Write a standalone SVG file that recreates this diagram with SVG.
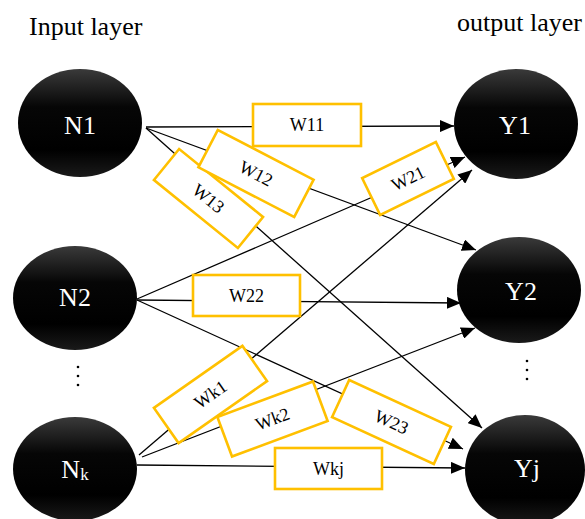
<svg xmlns="http://www.w3.org/2000/svg" width="585" height="519" viewBox="0 0 585 519">
<style>
.lbl{font-family:"Liberation Serif","Times New Roman",serif;font-size:26px;fill:#000}
.nt{font-family:"Liberation Serif","Times New Roman",serif;font-size:26px;fill:#fff;text-anchor:middle}
.node{fill:url(#g)}
.w rect{fill:#fff;stroke:#FFC000;stroke-width:2.6}
.w text{font-family:"Liberation Serif","Times New Roman",serif;font-size:18px;fill:#000;text-anchor:middle}
.c path{stroke:#000;stroke-width:1.3;fill:none;marker-end:url(#ah)}
.dot{fill:#000}
</style>
<defs>
<linearGradient id="g" x1="0" y1="0" x2="0" y2="1">
<stop offset="0" stop-color="#3a3a3a"/>
<stop offset="0.35" stop-color="#060606"/>
<stop offset="0.75" stop-color="#000"/>
<stop offset="1" stop-color="#1a1a1a"/>
</linearGradient>
<marker id="ah" markerUnits="userSpaceOnUse" markerWidth="14" markerHeight="12" refX="14" refY="6" orient="auto">
<path d="M0,0 L14,6 L0,12 z" fill="#000"/>
</marker>
</defs>
<rect width="585" height="519" fill="#fff"/>
<text class="lbl" x="29" y="35">Input layer</text>
<text class="lbl" x="457" y="31">output layer</text>

<g id="connectors" class="c">
<path d="M146,127 L454,126"/>
<path d="M146,128 L476,250"/>
<path d="M146,128 L482,428"/>
<path d="M137,299 L465,157"/>
<path d="M137,300 L461,303"/>
<path d="M137,300 L463,449"/>
<path d="M139,455 L472,170"/>
<path d="M142,457 L475,328"/>
<path d="M137,465 L465,468"/>
</g>

<g id="weights">
<g id="w11" class="w" transform="translate(307,125)"><rect x="-54" y="-21" width="108" height="42"/><text x="0" y="6">W11</text></g>
<g id="w13" class="w" transform="translate(208.5,198.5) rotate(39)"><rect x="-54" y="-20" width="108" height="40"/><text x="0" y="6">W13</text></g>
<g id="w12" class="w" transform="translate(256,173.5) rotate(27.5)"><rect x="-54" y="-21" width="108" height="42"/><text x="0" y="6">W12</text></g>
<g id="w21" class="w" transform="translate(408,178.5) rotate(-26)"><rect x="-41" y="-20.5" width="82" height="41"/><text x="0" y="6">W21</text></g>
<g id="w22" class="w" transform="translate(246.5,295.5)"><rect x="-53.5" y="-20.5" width="107" height="41"/><text x="0" y="6">W22</text></g>
<g id="w23" class="w" transform="translate(391.5,422) rotate(24.7)"><rect x="-56" y="-20.5" width="112" height="41"/><text x="0" y="6">W23</text></g>
<g id="wk2" class="w" transform="translate(272.5,419) rotate(-20.4)"><rect x="-51" y="-21" width="102" height="42"/><text x="0" y="6">Wk2</text></g>
<g id="wk1" class="w" transform="translate(210.5,394.5) rotate(-35)"><rect x="-54" y="-21.5" width="108" height="43"/><text x="0" y="6">Wk1</text></g>
<g id="wkj" class="w" transform="translate(328.5,468.5)"><rect x="-53.5" y="-20.5" width="107" height="41"/><text x="0" y="6">Wkj</text></g>
</g>

<g id="n1"><ellipse class="node" cx="80" cy="123" rx="62" ry="54"/><text class="nt" x="80" y="134">N1</text></g>
<g id="n2"><ellipse class="node" cx="75" cy="298" rx="62" ry="52"/><text class="nt" x="75" y="306">N2</text></g>
<g id="nk"><ellipse class="node" cx="75" cy="469" rx="62" ry="52"/><text class="nt" x="75" y="478">N<tspan font-size="17" dy="2">k</tspan></text></g>
<g id="y1"><ellipse class="node" cx="516" cy="124" rx="62" ry="55"/><text class="nt" x="515" y="134">Y1</text></g>
<g id="y2"><ellipse class="node" cx="519" cy="290" rx="62" ry="53"/><text class="nt" x="521" y="300">Y2</text></g>
<g id="yj"><ellipse class="node" cx="525" cy="470" rx="60" ry="55"/><text class="nt" x="527" y="477">Yj</text></g>

<g id="dots-left" class="dot"><circle cx="78" cy="367" r="1.3"/><circle cx="78" cy="376" r="1.3"/><circle cx="78" cy="385" r="1.3"/></g>
<g id="dots-right" class="dot"><circle cx="527" cy="361" r="1.3"/><circle cx="527" cy="370" r="1.3"/><circle cx="527" cy="379" r="1.3"/></g>
</svg>
